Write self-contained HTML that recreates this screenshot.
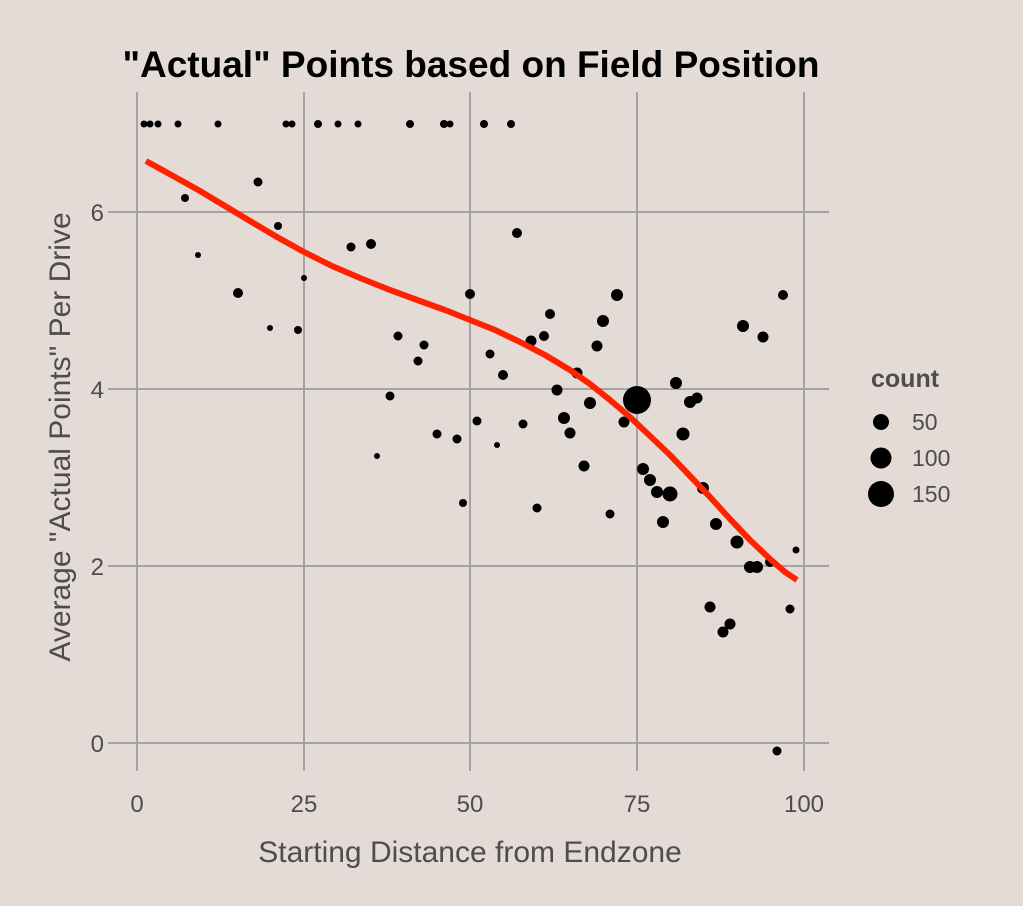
<!DOCTYPE html>
<html><head><meta charset="utf-8"><style>
body{margin:0;background:#e4dbd7;}
svg{display:block;font-family:"Liberation Sans",sans-serif;}
</style></head><body>
<svg width="1023" height="906" viewBox="0 0 1023 906" xmlns="http://www.w3.org/2000/svg">
<rect width="1023" height="906" fill="#e4dbd7"/>
<g stroke="#a3a3a3" stroke-width="2">
<line x1="137" y1="92" x2="137" y2="771"/><line x1="304" y1="92" x2="304" y2="771"/>
<line x1="470" y1="92" x2="470" y2="771"/><line x1="637" y1="92" x2="637" y2="771"/>
<line x1="804" y1="92" x2="804" y2="771"/>
<line x1="108" y1="743" x2="829" y2="743"/><line x1="108" y1="566" x2="829" y2="566"/>
<line x1="108" y1="389" x2="829" y2="389"/><line x1="108" y1="212" x2="829" y2="212"/>
</g>
<g fill="#000">
<circle cx="144" cy="124" r="3.5"/><circle cx="150" cy="124" r="3.5"/><circle cx="158" cy="124" r="3.5"/><circle cx="178" cy="124" r="3.5"/><circle cx="218" cy="124" r="3.5"/><circle cx="286" cy="124" r="3.5"/><circle cx="292" cy="124" r="3.5"/><circle cx="318" cy="124" r="4"/><circle cx="338" cy="124" r="3.5"/><circle cx="358" cy="124" r="3.5"/><circle cx="410" cy="124" r="4"/><circle cx="444" cy="124" r="4"/><circle cx="450" cy="124" r="3.5"/><circle cx="484" cy="124" r="4"/><circle cx="511" cy="124" r="4"/>
<circle cx="185" cy="198" r="4"/><circle cx="258" cy="182" r="4.5"/><circle cx="198" cy="255" r="3"/><circle cx="278" cy="226" r="4"/><circle cx="238" cy="293" r="5"/><circle cx="270" cy="328" r="3"/><circle cx="298" cy="330" r="4"/><circle cx="304" cy="278" r="3"/><circle cx="351" cy="247" r="4.5"/><circle cx="371" cy="244" r="5"/><circle cx="398" cy="336" r="4.5"/><circle cx="390" cy="396" r="4.5"/><circle cx="418" cy="361" r="4.5"/><circle cx="424" cy="345" r="4.5"/><circle cx="377" cy="456" r="3"/><circle cx="437" cy="434" r="4.5"/><circle cx="457" cy="439" r="4.5"/><circle cx="463" cy="503" r="4"/><circle cx="470" cy="294" r="5"/><circle cx="477" cy="421" r="4.5"/><circle cx="490" cy="354" r="4.5"/><circle cx="497" cy="445" r="3"/><circle cx="503" cy="375" r="5"/><circle cx="517" cy="233" r="5"/><circle cx="523" cy="424" r="4.5"/><circle cx="531" cy="341" r="5.5"/><circle cx="537" cy="508" r="4.5"/><circle cx="544" cy="336" r="5"/><circle cx="550" cy="314" r="5"/><circle cx="557" cy="390" r="5.5"/><circle cx="564" cy="418" r="6"/><circle cx="570" cy="433" r="5.5"/><circle cx="577" cy="373" r="5.5"/><circle cx="584" cy="466" r="5.5"/><circle cx="590" cy="403" r="6"/><circle cx="597" cy="346" r="5.5"/><circle cx="603" cy="321" r="6"/><circle cx="610" cy="514" r="4.5"/><circle cx="617" cy="295" r="6"/><circle cx="624" cy="422" r="5.5"/><circle cx="637" cy="400" r="14"/><circle cx="643" cy="469" r="6"/><circle cx="650" cy="480" r="6"/><circle cx="657" cy="492" r="6"/><circle cx="663" cy="522" r="6"/><circle cx="670" cy="494" r="7.5"/><circle cx="676" cy="383" r="6"/><circle cx="683" cy="434" r="6.5"/><circle cx="690" cy="402" r="6"/><circle cx="697" cy="398" r="5.5"/><circle cx="703" cy="488" r="6"/><circle cx="710" cy="607" r="5.5"/><circle cx="716" cy="524" r="6"/><circle cx="723" cy="632" r="5.5"/><circle cx="730" cy="624" r="5.5"/><circle cx="737" cy="542" r="6.5"/><circle cx="743" cy="326" r="6"/><circle cx="750" cy="567" r="6"/><circle cx="757" cy="567" r="6"/><circle cx="763" cy="337" r="5.5"/><circle cx="770" cy="562" r="5"/><circle cx="777" cy="751" r="4.5"/><circle cx="783" cy="295" r="5"/><circle cx="790" cy="609" r="4.5"/><circle cx="796" cy="550" r="3.5"/>
</g>
<polyline points="146,161 175,177 200,191 225,206 250,221 277,237 304,252 332,266 360,278 390,290 420,301 445,310 470,320 495,330 520,342 545,355 570,370 590,384 610,400 630,417 650,436 670,455 690,476 710,497 730,519 750,540 770,559 785,572 797,580" fill="none" stroke="#ff2200" stroke-width="6" stroke-linejoin="round"/>
<g fill="#4d4d4d" font-size="24" text-anchor="end">
<text x="104" y="752">0</text><text x="104" y="575">2</text><text x="104" y="398">4</text><text x="104" y="221">6</text>
</g>
<g fill="#4d4d4d" font-size="24" text-anchor="middle">
<text x="137" y="812">0</text><text x="304" y="812">25</text><text x="470" y="812">50</text><text x="637" y="812">75</text><text x="804" y="812">100</text>
<text x="470" y="862" font-size="30">Starting Distance from Endzone</text>
<text transform="translate(70,437) rotate(-90)" font-size="30">Average "Actual Points" Per Drive</text>
</g>
<text x="471" y="77" text-anchor="middle" font-size="37" font-weight="bold" fill="#000">"Actual" Points based on Field Position</text>
<text x="871" y="387" font-size="25" font-weight="bold" fill="#4d4d4d">count</text>
<circle cx="881" cy="422" r="8" fill="#000"/><circle cx="881" cy="458" r="10.5" fill="#000"/><circle cx="881" cy="494" r="13" fill="#000"/>
<g fill="#4d4d4d" font-size="23"><text x="912" y="430">50</text><text x="912" y="466">100</text><text x="912" y="502">150</text></g>
</svg>
</body></html>
